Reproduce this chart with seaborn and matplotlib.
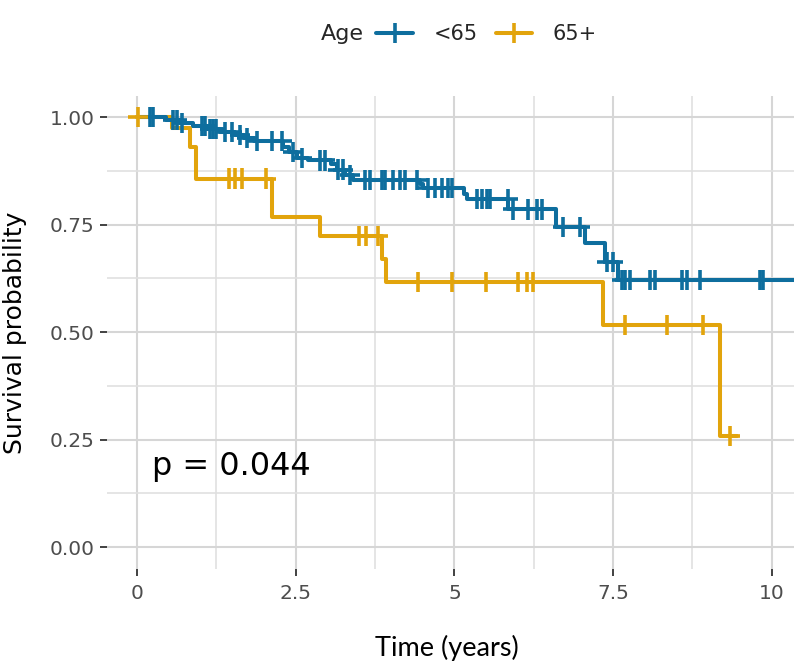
import numpy as np
import pandas as pd
import matplotlib
matplotlib.use("Agg")
import matplotlib.pyplot as plt
from matplotlib.lines import Line2D
from matplotlib.ticker import MultipleLocator
import seaborn as sns

# ---------------- data ----------------
groups = ["<65", "65+"]
colors = ["#0E6E9E", "#E2A40C"]

# Kaplan-Meier step curves: event times and survival after each step
young_times = [0.0, 0.45, 0.68, 0.88, 1.10, 1.30, 1.55, 1.68, 1.85, 2.30, 2.40,
               2.52, 2.70, 3.05, 3.15, 3.27, 3.40, 4.46, 4.50, 5.15, 5.20, 5.85,
               6.60, 7.05, 7.38, 7.58, 10.60]
young_surv = [1.000, 0.993, 0.986, 0.979, 0.972, 0.965, 0.958, 0.951, 0.944, 0.931, 0.918,
              0.905, 0.899, 0.890, 0.878, 0.866, 0.853, 0.844, 0.835, 0.822, 0.810, 0.785,
              0.745, 0.707, 0.663, 0.621, 0.621]

old_times = [0.0, 0.55, 0.83, 0.93, 2.12, 2.88, 3.86, 3.92, 7.34, 9.18, 9.45]
old_surv = [1.000, 0.975, 0.930, 0.857, 0.767, 0.723, 0.670, 0.617, 0.516, 0.258, 0.258]

# censoring times
young_censor = [0.20, 0.25, 0.57, 0.63, 0.71, 1.02, 1.07, 1.15, 1.20, 1.25, 1.39, 1.50,
                1.62, 1.73, 1.89, 2.12, 2.28, 2.46, 2.60, 2.88, 2.96, 3.17, 3.24, 3.35,
                3.59, 3.67, 3.86, 3.90, 4.03, 4.14, 4.22, 4.41, 4.58, 4.69, 4.80, 4.90,
                4.96, 5.35, 5.43, 5.51, 5.56, 5.84, 5.92, 6.16, 6.30, 6.38, 6.71, 6.98,
                7.40, 7.50, 7.64, 7.69, 7.76, 8.08, 8.16, 8.58, 8.66, 8.87, 9.81, 9.86]
old_censor = [0.02, 1.45, 1.55, 1.65, 2.03, 3.50, 3.60, 3.80, 4.43, 4.96, 5.50, 6.00,
              6.14, 6.24, 7.68, 8.35, 8.91, 9.34]

x_ticks = [0, 2.5, 5, 7.5, 10]
x_ticklabels = ["0", "2.5", "5", "7.5", "10"]
y_ticks = [0.0, 0.25, 0.5, 0.75, 1.0]
y_ticklabels = ["0.00", "0.25", "0.50", "0.75", "1.00"]
p_text = "p = 0.044"

# ---------------- tables ----------------
curve = pd.concat([
    pd.DataFrame({"group": groups[0], "time": young_times, "surv": young_surv}),
    pd.DataFrame({"group": groups[1], "time": old_times, "surv": old_surv}),
], ignore_index=True)


def surv_at(times, surv, t):
    idx = np.searchsorted(np.asarray(times), np.asarray(t), side="right") - 1
    return np.asarray(surv)[idx]


cens = pd.concat([
    pd.DataFrame({"group": groups[0], "time": young_censor,
                  "surv": surv_at(young_times, young_surv, young_censor)}),
    pd.DataFrame({"group": groups[1], "time": old_censor,
                  "surv": surv_at(old_times, old_surv, old_censor)}),
], ignore_index=True)

# ---------------- figure ----------------
sns.set_theme(style="white")
FONT = ["DejaVu Sans"]
plt.rcParams["font.family"] = FONT

fig = plt.figure(figsize=(7.94, 6.64), dpi=100)
ax = fig.add_axes([0.1348, 0.1438, 0.8652, 0.7123])

palette = dict(zip(groups, colors))
order = [groups[1], groups[0]]
sns.lineplot(data=curve, x="time", y="surv", hue="group", hue_order=order,
             palette=palette, estimator=None, drawstyle="steps-post",
             linewidth=2.9, legend=False, ax=ax, zorder=3)
sns.scatterplot(data=cens, x="time", y="surv", hue="group", hue_order=order,
                palette=palette, marker="+", s=210, linewidth=2.6,
                legend=False, ax=ax, zorder=4)

ax.set_xlim(-0.472, 10.35)
ax.set_ylim(-0.05, 1.05)
ax.set_xticks(x_ticks)
ax.set_xticklabels(x_ticklabels, family=FONT)
ax.set_yticks(y_ticks)
ax.set_yticklabels(y_ticklabels, family=FONT)
ax.xaxis.set_minor_locator(MultipleLocator(1.25))
ax.yaxis.set_minor_locator(MultipleLocator(0.125))

ax.grid(which="major", color="#D6D6D6", linewidth=1.5, zorder=0)
ax.grid(which="minor", color="#E0E0E0", linewidth=1.2, zorder=0)
ax.set_axisbelow(True)
for s in ax.spines.values():
    s.set_visible(False)

ax.tick_params(axis="both", which="major", length=5, width=1.3, color="#333333",
               labelsize=14.5, labelcolor="#4D4D4D", left=True, bottom=True)
ax.tick_params(axis="y", pad=4)
ax.tick_params(axis="x", pad=6)
ax.tick_params(which="minor", length=0)

ax.set_ylabel("Survival probability", fontsize=18, color="black", family=FONT)
ax.yaxis.set_label_coords(-0.1165, 0.498)
ax.set_xlabel("Time (years)", fontsize=19.5, family=["Lato", "DejaVu Sans"],
              color="black", va="center")
ax.xaxis.set_label_coords(0.495, -0.168)

ax.text(0.24, 0.188, p_text, fontsize=23, ha="left", va="center", color="black",
        family=FONT)

# legend
handles = [Line2D([0], [0], color=c, lw=2.9, marker="+", markersize=15,
                  markeredgewidth=2.6) for c in colors]
fig.text(0.458, 0.949, "Age", fontsize=16, ha="right", va="center", family=FONT)
fig.legend(handles, groups, loc="center", bbox_to_anchor=(0.613, 0.949), ncol=2,
           frameon=False, prop={"family": FONT, "size": 15}, handlelength=1.75,
           handletextpad=1.0, columnspacing=0.85, borderpad=0, borderaxespad=0)

fig.savefig("out.png", dpi=100)
